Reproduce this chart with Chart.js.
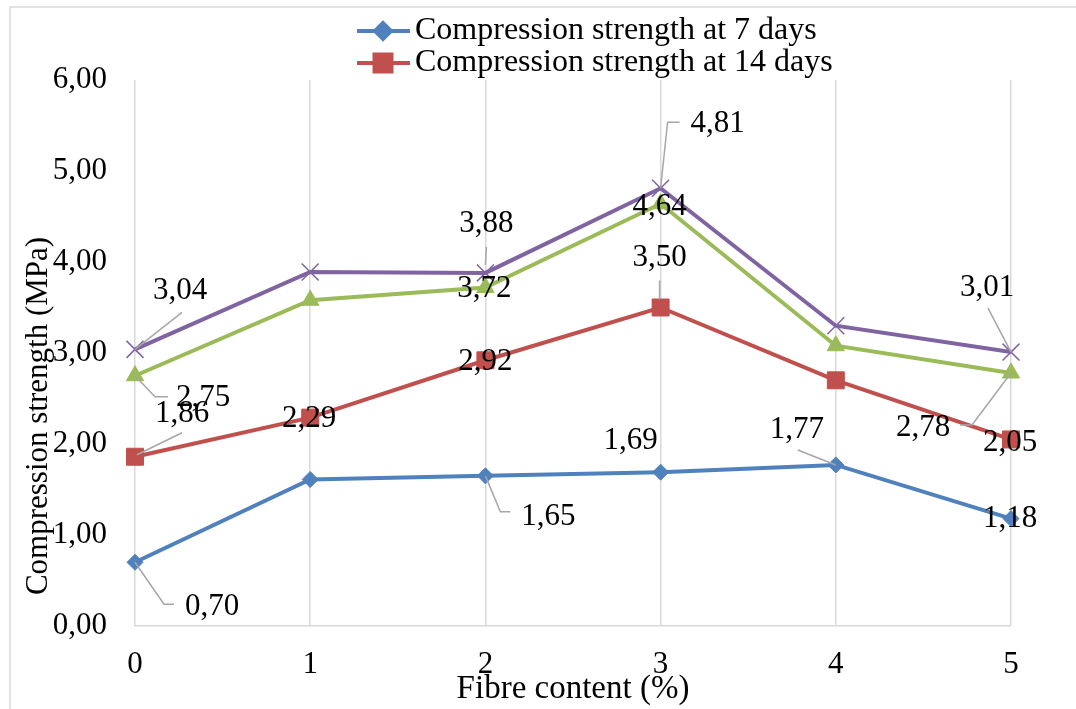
<!DOCTYPE html>
<html>
<head>
<meta charset="utf-8">
<script src="https://cdn.jsdelivr.net/npm/chart.js@4.4.1/dist/chart.umd.min.js"></script>
<style>
  html, body { margin: 0; padding: 0; background: #fff; }
  #wrap { width: 1076px; height: 709px; position: relative; }
</style>
</head>
<body>
<div id="wrap"><canvas id="strength"></canvas></div>
<script>
const fibreContent = ['0', '1', '2', '3', '4', '5'];
const days7 = [0.70, 1.61, 1.65, 1.69, 1.77, 1.18];
const days14 = [1.86, 2.29, 2.92, 3.50, 2.70, 2.05];
const days21 = [2.75, 3.58, 3.72, 4.64, 3.08, 2.78];
const days28 = [3.04, 3.89, 3.88, 4.81, 3.30, 3.01];
const seriesNames = [
    'Compression strength at 7 days',
    'Compression strength at 14 days',
    'Compression strength at 21 days',
    'Compression strength at 28 days'
];

const FONT = "'Liberation Serif', 'Times New Roman', serif";
const fmt = v => v.toFixed(2).replace('.', ',');

// where each data label sits relative to its point (px), with optional leader line
const labelPlacement = [
    {
        0: { dx: 77, dy: 45, leader: [[0, 0], [29, 42], [39, 42]] },
        2: { dx: 63, dy: 41, leader: [[0, 0], [15, 36], [25, 36]] },
        3: { dx: -30, dy: -31 },
        4: { dx: -39, dy: -35, leader: [[0, 0], [-38, -15]] },
        5: { dx: -1, dy: 0 }
    },
    {
        0: { dx: 47, dy: -43, leader: [[2, -2], [47, -24]] },
        1: { dx: -1, dy: 1 },
        2: { dx: 0, dy: 2 },
        3: { dx: -1, dy: -50, leader: [[-1, -8], [-1, -27]] },
        5: { dx: -1, dy: 3 }
    },
    {
        0: { dx: 68, dy: 22, leader: [[0, 0], [20, 21], [33, 21]] },
        2: { dx: -1, dy: 1 },
        3: { dx: -1, dy: 3 },
        5: { dx: -88, dy: 55, leader: [[0, 0], [-39, 52], [-51, 52]] }
    },
    {
        0: { dx: 45, dy: -59, leader: [[0, 0], [47, -37]] },
        2: { dx: 1, dy: -49, leader: [[0, -8], [1, -26]] },
        3: { dx: 57, dy: -64, leader: [[0, 0], [7, -66], [19, -66]] },
        5: { dx: -24, dy: -64, leader: [[0, 0], [-23, -44]] }
    }
];

const decor = {
    id: 'decor',
    beforeDraw(chart) {
        const ctx = chart.ctx;
        ctx.save();
        ctx.strokeStyle = '#D9D9D9';
        ctx.lineWidth = 1.5;
        ctx.strokeRect(10, 7, 1100, 720);
        ctx.restore();
    },
    afterDatasetsDraw(chart) {
        const ctx = chart.ctx;
        ctx.save();
        // leader lines and value labels
        chart.data.datasets.forEach((ds, i) => {
            const meta = chart.getDatasetMeta(i);
            const place = labelPlacement[i];
            Object.keys(place).forEach(k => {
                const p = place[k];
                const pt = meta.data[k];
                if (p.leader) {
                    ctx.strokeStyle = '#A6A6A6';
                    ctx.lineWidth = 1.5;
                    ctx.beginPath();
                    p.leader.forEach(([lx, ly], n) => {
                        if (n === 0) ctx.moveTo(pt.x + lx, pt.y + ly);
                        else ctx.lineTo(pt.x + lx, pt.y + ly);
                    });
                    ctx.stroke();
                }
                ctx.fillStyle = '#000';
                ctx.font = '31px ' + FONT;
                ctx.textAlign = 'center';
                ctx.textBaseline = 'middle';
                ctx.fillText(fmt(ds.data[k]), pt.x + p.dx, pt.y + p.dy);
            });
        });

        // y axis title
        ctx.save();
        ctx.translate(39, 416);
        ctx.rotate(-Math.PI / 2);
        ctx.fillStyle = '#000';
        ctx.font = '31px ' + FONT;
        ctx.textAlign = 'center';
        ctx.textBaseline = 'middle';
        ctx.fillText('Compression strength (MPa)', 0, 0);
        ctx.restore();

        // legend (first two series)
        [0, 1].forEach(i => {
            const ds = chart.data.datasets[i];
            const y = 31 + i * 32;
            ctx.strokeStyle = ds.borderColor;
            ctx.lineWidth = 4;
            ctx.beginPath();
            ctx.moveTo(357, y);
            ctx.lineTo(410, y);
            ctx.stroke();
            ctx.fillStyle = ds.borderColor;
            Chart.helpers.drawPoint(ctx, {
                pointStyle: ds.pointStyle,
                radius: ds.pointRadius,
                borderWidth: 1
            }, 383, y);
            ctx.fillStyle = '#000';
            ctx.font = '32px ' + FONT;
            ctx.textAlign = 'left';
            ctx.textBaseline = 'middle';
            ctx.fillText(seriesNames[i], 415, y);
        });
        ctx.restore();
    }
};

function series(i, data, color, style, radius) {
    return {
        label: seriesNames[i],
        data: data,
        borderColor: color,
        backgroundColor: color,
        borderWidth: 4,
        pointStyle: style,
        pointRadius: radius,
        pointHoverRadius: radius,
        pointBorderWidth: style === 'crossRot' ? 1.5 : 1,
        pointBackgroundColor: color,
        pointBorderColor: color,
        tension: 0,
        fill: false
    };
}

const strengthChart = new Chart(document.getElementById('strength'), {
    type: 'line',
    data: {
        labels: fibreContent,
        datasets: [
            series(0, days7, '#4F81BD', 'rectRot', 8),
            series(1, days14, '#C0504D', 'rect', 12),
            series(2, days21, '#9BBB59', 'triangle', 10),
            series(3, days28, '#8064A2', 'crossRot', 12)
        ]
    },
    options: {
        responsive: true,
        maintainAspectRatio: false,
        animation: false,
        layout: {
            padding: { top: 80, right: 65, left: 0, bottom: 0 }
        },
        plugins: {
            legend: { display: false },
            tooltip: { enabled: false }
        },
        scales: {
            x: {
                offset: false,
                afterFit(scale) { scale.height = 83; },
                grid: { color: '#D9D9D9', lineWidth: 1.5, drawTicks: false },
                border: { color: '#D9D9D9', width: 1.5 },
                ticks: {
                    padding: 20,
                    color: '#000',
                    font: { family: FONT, size: 31 }
                },
                title: {
                    display: true,
                    text: 'Fibre content (%)',
                    color: '#000',
                    padding: 0,
                    font: { family: FONT, size: 33 }
                }
            },
            y: {
                min: 0,
                max: 6,
                afterFit(scale) { scale.width = 135; },
                grid: { display: false, drawTicks: false },
                border: { display: false },
                ticks: {
                    stepSize: 1,
                    padding: 28,
                    color: '#000',
                    font: { family: FONT, size: 31 },
                    callback: v => fmt(v)
                }
            }
        }
    },
    plugins: [decor]
});
</script>
</body>
</html>
